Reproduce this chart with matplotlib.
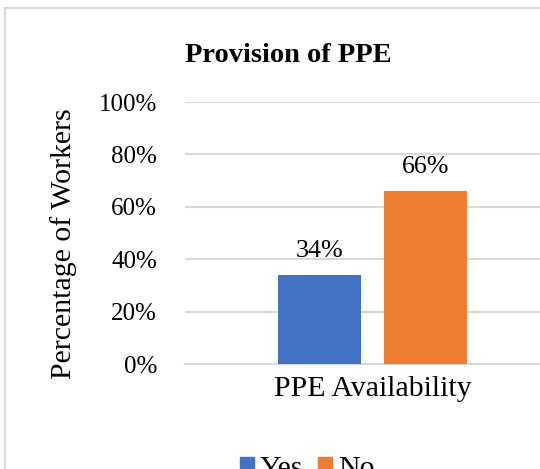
import matplotlib.pyplot as plt
from matplotlib.patches import Rectangle, Patch

# data
category = "PPE Availability"
series = ["Yes", "No"]
values = [34, 66]
colors = ["#4472C4", "#ED7D31"]
y_ticks = [0, 20, 40, 60, 80, 100]

plt.rcParams["font.family"] = ["Liberation Serif", "DejaVu Serif"]

fig = plt.figure(figsize=(5.4, 4.69), dpi=100)

# chart frame (cropped on the right and bottom)
fig.patches.append(Rectangle((5 / 540, -0.1), 1.2, 1 - 8.5 / 469 + 0.1,
                             transform=fig.transFigure, fill=False,
                             edgecolor="#d9d9d9", linewidth=1.5))

ax = fig.add_axes([185 / 540, 105 / 469, 375 / 540, 262 / 469])

bar_w = 0.221
offsets = [-0.1413, 0.1413]
for name, val, col, off in zip(series, values, colors, offsets):
    ax.bar(off, val, width=bar_w, color=col, zorder=3)
    ax.text(off, val + 5, f"{val}%", ha="center", va="bottom", fontsize=18.7)

ax.set_xlim(-0.5, 0.5)
ax.set_ylim(0, 100)
ax.set_yticks(y_ticks)
ax.set_yticklabels([f"{t}%" for t in y_ticks], fontsize=18)
ax.set_xticks([0])
ax.set_xticklabels([category], fontsize=21.5)
ax.tick_params(axis="y", length=0, pad=20)
ax.tick_params(axis="x", length=0, pad=8.6)
ax.grid(axis="y", color="#d9d9d9", linewidth=1.5, zorder=0)
for s in ["top", "right", "left"]:
    ax.spines[s].set_visible(False)
ax.spines["bottom"].set_color("#d9d9d9")
ax.spines["bottom"].set_linewidth(1.5)

ax.set_ylabel("Percentage of Workers", fontsize=21.5)
ax.yaxis.set_label_coords((77 - 185) / 375, 0.458)

fig.text(288 / 540, 1 - 55 / 469, "Provision of PPE", ha="center", va="center",
         fontsize=20.5, fontweight="bold")

handles = [Patch(color=c, label=s) for s, c in zip(series, colors)]
fig.legend(handles=handles, loc="center", bbox_to_anchor=(0.569, 0.001), ncol=2,
           frameon=False, fontsize=21.5, handlelength=0.47, handleheight=0.47,
           handletextpad=0.2, columnspacing=0.5)

fig.savefig("out.png", dpi=100)
